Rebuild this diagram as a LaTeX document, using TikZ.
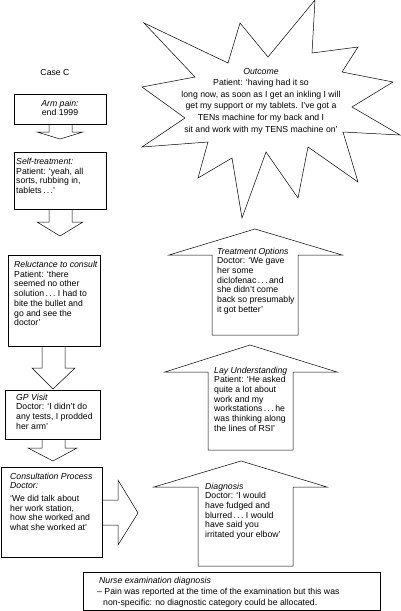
\documentclass[tikz,border=0pt]{standalone}
\usepackage{fontspec}
\setmainfont{Liberation Sans}
\newcommand{\ellip}{.\kern1.3pt.\kern1.3pt.}

\begin{document}
\begin{tikzpicture}[x=1pt, y=-1pt,
    outline/.style={draw, line width=0.5pt, line join=miter},
    txt/.style={anchor=north west, align=left, inner sep=0pt, font=\fontsize{8.7}{9.7}\selectfont},
    ctxt/.style={align=center, inner sep=0pt, font=\fontsize{8.7}{9.7}\selectfont}]
  \useasboundingbox (0,0) rectangle (400,611);

  % left column: boxes with arrows down
  \node (case) [ctxt] at (55,73) {Case C};

  \draw [outline] (14,94) rectangle (106,124);
  \draw [outline] (49,124) -- (49,132) -- (37,132) -- (60,139) -- (83,132) -- (72,132) -- (72,124);
  \node (arm) [ctxt] at (60,108) {\textit{Arm pain:}\\end 1999};

  \draw [outline] (14,152) rectangle (106,209);
  \draw [outline] (49,209) -- (49,222) -- (37,222) -- (60,236) -- (83,222) -- (72,222) -- (72,209);
  \node (self) [txt] at (16,158) {\textit{Self-treatment:}\\Patient: `yeah, all\\sorts, rubbing in,\\tablets\,\ellip'};

  \draw [outline] (8,255) rectangle (100,346);
  \draw [outline] (42,346) -- (42,368) -- (32,368) -- (53,389) -- (75,368) -- (65,368) -- (65,346);
  \node (reluct) [txt] at (14,261) {\textit{Reluctance to consult}\\Patient: `there\\seemed no other\\solution\,\ellip\ I had to\\bite the bullet and\\go and see the\\doctor'};

  \draw [outline] (5,390) rectangle (100,439);
  \draw [outline] (42,439) -- (42,448) -- (28,448) -- (53,461) -- (77,448) -- (65,448) -- (65,439);
  \node (gp) [txt] at (16,393.5) {\textit{GP Visit}\\Doctor: `I didn't do\\any tests, I prodded\\her arm'};

  \draw [outline] (1,467) rectangle (102,557);
  \draw [outline] (102,500) -- (118,500) -- (118,480) -- (138,513) -- (118,545) -- (118,525) -- (102,525);
  \node (consult) [txt] at (10,472.5) {\textit{Consultation Process}\\\textit{Doctor:}\\[3pt]`We did talk about\\her work station,\\how she worked and\\what she worked at'};

  % right column: arrows up
  \draw [outline] (198,566) -- (198,487) -- (154,487) -- (241,461) -- (327,487) -- (293,487) -- (293,566) -- cycle;
  \node (diag) [txt] at (205,482.5) {\textit{Diagnosis}\\Doctor: `I would\\have fudged and\\blurred\,\ellip\ I would\\have said you\\irritated your elbow'};

  \draw [outline] (208,450) -- (208,372) -- (165,372) -- (250,345) -- (337,372) -- (293,372) -- (293,450) -- cycle;
  \node (lay) [txt] at (214,366.5) {\textit{Lay Understanding}\\Patient: `He asked\\quite a lot about\\work and my\\workstations\,\ellip\,he\\was thinking along\\the lines of RSI'};

  \draw [outline] (212,335) -- (212,255) -- (169,255) -- (255,229) -- (342,255) -- (298,255) -- (298,335) -- cycle;
  \node (treat) [txt] at (217,247.5) {\textit{Treatment Options}\\Doctor: `We gave\\her some\\diclofenac\,\ellip\,and\\she didn't come\\back so presumably\\it got better'};

  % outcome burst
  \draw [outline] (144,23) -- (228,63) -- (240,23) -- (268,57) -- (315,0) -- (312,53)
    -- (358,47) -- (342,72) -- (393,82) -- (352,107) -- (400,135) -- (343,132)
    -- (358,182) -- (308,147) -- (298,198) -- (266,152) -- (242,218) -- (232,158)
    -- (198,178) -- (208,142) -- (142,147) -- (185,118) -- (142,87) -- (195,77) -- cycle;
  \node (outcome) [ctxt, font=\fontsize{8.7}{11.6}\selectfont] at (261,101) {\textit{Outcome}\\Patient: `having had it so\\long now, as soon as I get an inkling I will\\get my support or my tablets. I've got a\\TENs machine for my back and I\\sit and work with my TENS machine on'};

  % nurse box
  \draw [outline] (83,572) rectangle (380,610);
  \node (nurse) [txt, font=\fontsize{8.7}{10.5}\selectfont] at (99,576.5) {\textit{Nurse examination diagnosis}\\[1pt]\hspace*{-2pt}-- Pain was reported at the time of the examination but this was\\\hspace*{4pt}non-specific: no diagnostic category could be allocated.};
\end{tikzpicture}
\end{document}
